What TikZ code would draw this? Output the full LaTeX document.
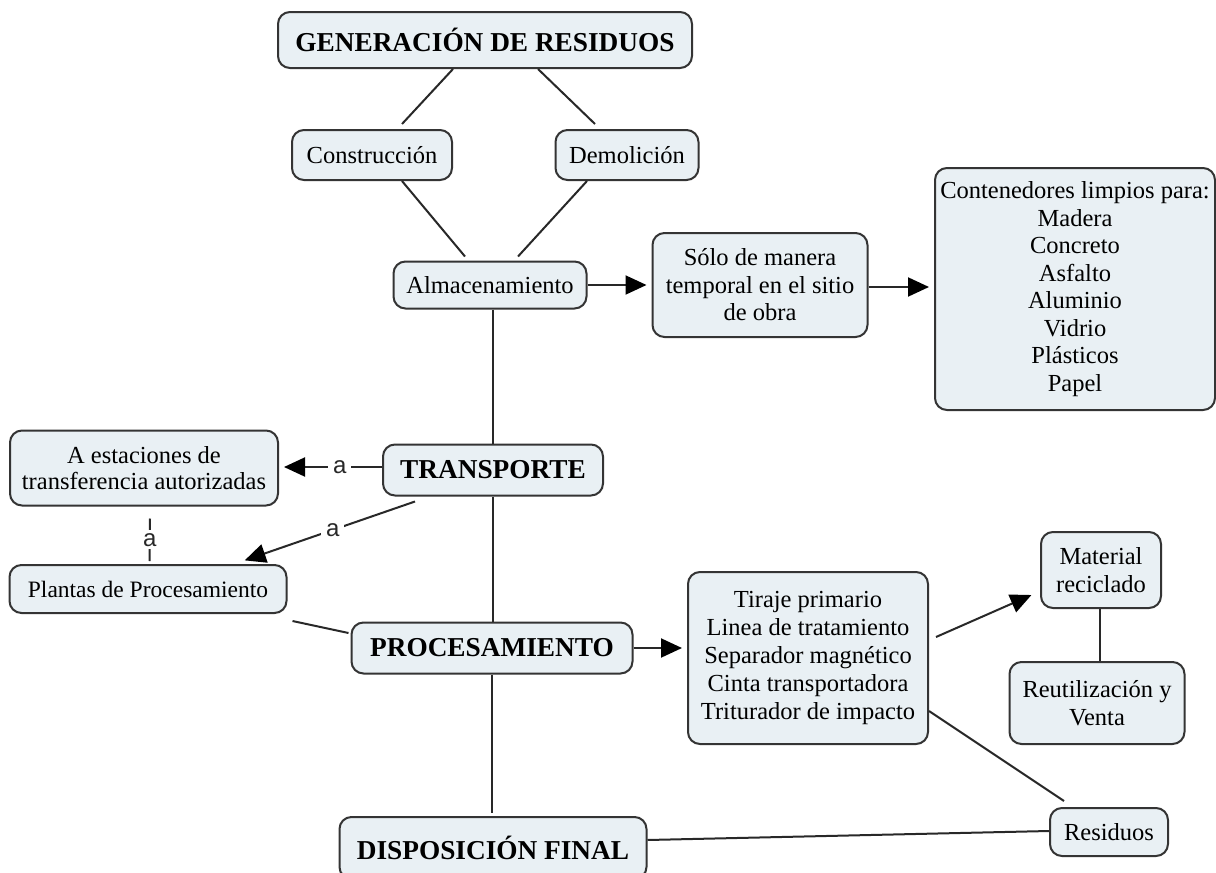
\documentclass[tikz,border=0pt]{standalone}
\usepackage{fontspec}
\setmainfont{Liberation Serif}
\newfontfamily\lblfont{Liberation Sans}
\usepackage{xcolor}
\usepackage{tikz}
\usetikzlibrary{arrows.meta, positioning, calc}

\definecolor{boxfill}{RGB}{233,240,244}
\definecolor{boxline}{RGB}{52,52,52}
\definecolor{linkgray}{RGB}{40,40,40}

\tikzset{
  concept/.style={draw=boxline, line width=2pt, fill=boxfill, rounded corners=12pt,
    align=center, inner sep=4pt, font=\fontsize{24.5}{27.5}\selectfont},
  mainconcept/.style={concept, font=\fontsize{27.3}{30}\selectfont\bfseries},
  link/.style={draw=linkgray, line width=2pt},
  arr/.style={link, -{Triangle[length=21pt,width=19pt,color=black]}, shorten >=5pt},
  lbl/.style={fill=white, inner sep=5pt, text=linkgray, font=\lblfont\fontsize{24}{26}\selectfont},
}

\begin{document}
\begin{tikzpicture}[x=1pt,y=-1pt]
      \fill[white] (0,0) rectangle (1216,873);
      \clip (0,0) rectangle (1216,873);

      % conceptos
      \node[mainconcept, minimum width=414, minimum height=56] (gen) at (485,40) {GENERACIÓN DE RESIDUOS};
      \node[concept, minimum width=160, minimum height=50] (constr) at (372,155) {Construcción};
      \node[concept, minimum width=143, minimum height=50] (demol) at (627,155) {Demolición};
      \node[concept, minimum width=193, minimum height=47] (alm) at (490,285) {Almacenamiento};
      \node[concept, minimum width=215, minimum height=104] (solo) at (760,285) {Sólo de manera\\temporal en el sitio\\de obra};
      \node[concept, minimum width=280, minimum height=242, inner xsep=2pt] (cont) at (1075,289)
        {Contenedores limpios para:\\Madera\\Concreto\\Asfalto\\Aluminio\\Vidrio\\Plásticos\\Papel};

      \node[mainconcept, minimum width=220, minimum height=51] (transp) at (493,470) {TRANSPORTE};
      \node[concept, minimum width=268, minimum height=75, font=\fontsize{24.5}{26.5}\selectfont] (estac) at (144,468) {A estaciones de\\transferencia autorizadas};
      \node[concept, minimum width=277, minimum height=48, font=\fontsize{23.5}{26}\selectfont] (plantas) at (148,589) {Plantas de Procesamiento};

      \node[mainconcept, minimum width=281, minimum height=51] (proces) at (492,648) {PROCESAMIENTO};
      \node[concept, minimum width=240, minimum height=172, font=\fontsize{24.5}{27.8}\selectfont] (tiraje) at (808,658)
        {Tiraje primario\\Linea de tratamiento\\Separador magnético\\Cinta transportadora\\Triturador de impacto};
      \node[concept, minimum width=120, minimum height=76] (material) at (1101,570) {Material\\reciclado};
      \node[concept, minimum width=175, minimum height=82] (reutil) at (1097,703) {Reutilización y\\Venta};
      \node[concept, minimum width=118, minimum height=48] (resid) at (1109,832) {Residuos};

      \node[mainconcept, minimum width=307, minimum height=62] (dispo) at (493,848) {DISPOSICIÓN FINAL};

      % enlaces
      \draw[link] ($(gen.south)+(-32,0)$) -- ($(constr.north)+(30,-5)$);
      \draw[link] ($(gen.south)+(53,0)$) -- ($(demol.north)+(-32,-5)$);
      \draw[link] ($(constr.south)+(30,0)$) -- ($(alm.north)+(-25,-4)$);
      \draw[link] ($(demol.south)+(-40,0)$) -- ($(alm.north)+(28,-4)$);
      \draw[arr] (alm.east) -- (alm.east -| solo.west);
      \draw[arr] ($(solo.east)+(0,2)$) -- ($(solo.east -| cont.west)+(0,2)$);
      \draw[link] (transp.north |- alm.south) -- (transp.north);

      \draw[arr] ($(transp.west)+(0,-3)$) -- ($(transp.west -| estac.east)+(0,-3)$) node[lbl, pos=0.41] {a};
      \draw[arr] ($(transp.south)+(-78,5)$) -- ($(plantas.north)+(92,-2)$) node[lbl, pos=0.47] {a};
      \draw[link] ($(estac.south)+(6,12)$) -- ($(plantas.north)+(1.5,-3)$) node[lbl, midway, inner ysep=3pt] {a};
      \draw[link] ($(plantas.south east)+(5,7)$) -- ($(proces.west)+(-2,-15)$);
      \draw[link] (transp.south |- transp.south) -- (transp.south |- proces.north);

      \draw[arr] (proces.east) -- (proces.east -| tiraje.west);
      \draw[link, shorten >=3pt] (proces.south) -- (proces.south |- dispo.north);
      \draw[arr] ($(tiraje.east)+(7,-21)$) -- ($(material.west)+(-4,23)$);
      \draw[link] ($(material.south)+(-1,0)$) -- ($(material.south |- reutil.north)+(-1,0)$);
      \draw[link] ($(tiraje.south east)+(0,-34)$) -- ($(resid.north)+(-45,-6)$);
      \draw[link] ($(dispo.east)+(0,-8)$) -- ($(resid.west)+(0,-1)$);
\end{tikzpicture}
\end{document}
